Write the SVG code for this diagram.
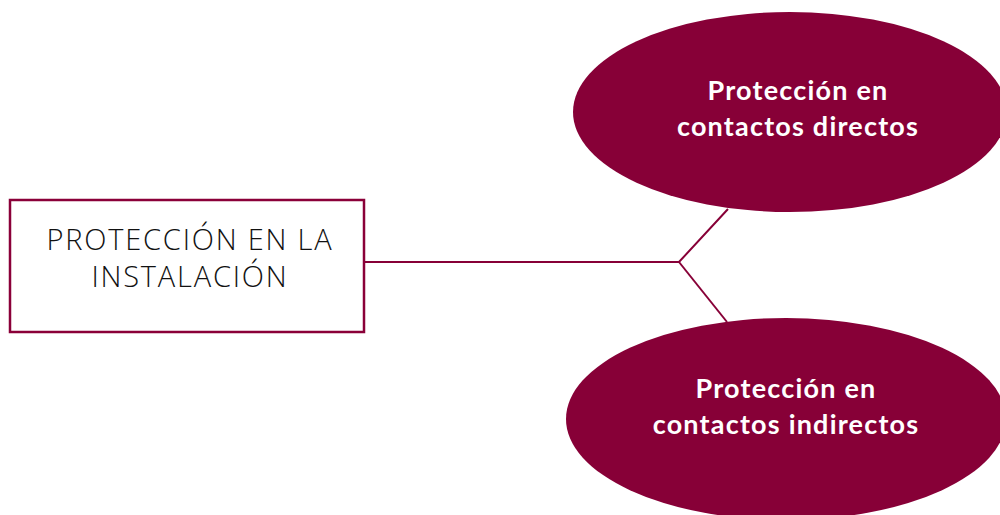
<svg xmlns="http://www.w3.org/2000/svg" width="1000" height="515" viewBox="0 0 1000 515">
<style>
.box{fill:#fff;stroke:#8a0038;stroke-width:2.5}
.ell{fill:#870037}
.conn{fill:none;stroke:#870037;stroke-width:2}
.t1{font-family:"Open Sans","Noto Sans",sans-serif;font-weight:300;font-size:29px;letter-spacing:1.8px;fill:#111;text-anchor:middle}
.t2{font-family:Lato,"Liberation Sans",sans-serif;font-weight:bold;font-size:27px;letter-spacing:1.2px;fill:#fff;text-anchor:middle}
</style>
<rect width="1000" height="515" fill="#fff"/>
<g id="connectors">
<polyline class="conn" points="365,262 679,262 728,209"/>
<line class="conn" x1="679" y1="262" x2="727" y2="322"/>
</g>
<g id="root">
<rect class="box" x="10" y="200" width="354" height="132"/>
<text class="t1" x="190" y="250">PROTECCIÓN EN LA</text>
<text class="t1" x="190" y="287">INSTALACIÓN</text>
</g>
<g id="directos">
<ellipse class="ell" cx="790" cy="112" rx="217" ry="100"/>
<text class="t2" x="798" y="100">Protección en</text>
<text class="t2" x="798" y="136">contactos directos</text>
</g>
<g id="indirectos">
<ellipse class="ell" cx="786" cy="419" rx="220" ry="101"/>
<text class="t2" x="786" y="398">Protección en</text>
<text class="t2" x="786" y="434">contactos indirectos</text>
</g>
</svg>
